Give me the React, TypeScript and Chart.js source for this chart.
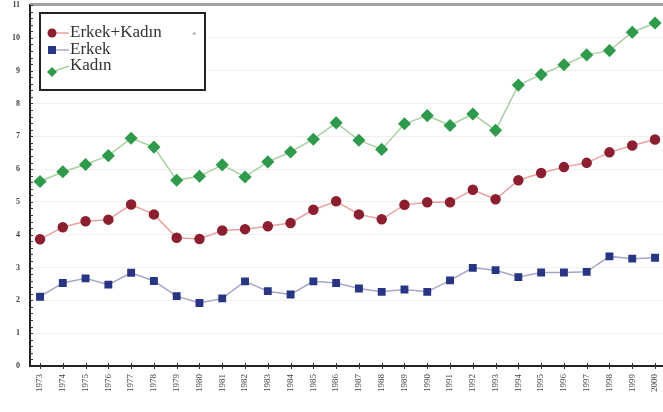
import React, { useEffect, useRef } from "react";
import { Chart, registerables } from "chart.js";

Chart.register(...registerables);

const years = [1973, 1974, 1975, 1976, 1977, 1978, 1979, 1980, 1981, 1982, 1983, 1984, 1985, 1986, 1987, 1988, 1989, 1990, 1991, 1992, 1993, 1994, 1995, 1996, 1997, 1998, 1999, 2000];
const erkekKadin = [3.86, 4.23, 4.41, 4.46, 4.92, 4.62, 3.91, 3.87, 4.13, 4.17, 4.26, 4.36, 4.76, 5.02, 4.62, 4.47, 4.91, 4.99, 4.99, 5.37, 5.08, 5.66, 5.88, 6.06, 6.19, 6.51, 6.72, 6.90];
const erkek = [2.11, 2.53, 2.67, 2.48, 2.84, 2.59, 2.13, 1.92, 2.06, 2.58, 2.28, 2.18, 2.58, 2.53, 2.36, 2.26, 2.33, 2.26, 2.61, 2.99, 2.92, 2.71, 2.85, 2.85, 2.87, 3.34, 3.27, 3.30];
const kadin = [5.62, 5.92, 6.14, 6.41, 6.94, 6.67, 5.66, 5.78, 6.13, 5.76, 6.22, 6.52, 6.91, 7.41, 6.88, 6.60, 7.38, 7.63, 7.33, 7.68, 7.18, 8.56, 8.88, 9.18, 9.48, 9.61, 10.17, 10.45];
const seriesLabels = ["Erkek+Kadın", "Erkek", "Kadın"];
const yTicks = [0, 1, 2, 3, 4, 5, 6, 7, 8, 9, 10, 11];

const SERIF = "'Liberation Serif', 'DejaVu Serif', serif";

const legendBoxPlugin = {
  id: "legendBox",
  afterDraw(chart: any) {
    const ctx = chart.ctx;
    ctx.save();
    // legend frame
    ctx.fillStyle = "#ffffff";
    ctx.fillRect(40, 13, 165, 77);
    ctx.strokeStyle = "#222222";
    ctx.lineWidth = 2;
    ctx.strokeRect(40, 13, 165, 77);
    const rows = [
      { y: 33, ty: 33 },
      { y: 50, ty: 50 },
      { y: 72, ty: 66 },
    ];
    chart.data.datasets.forEach((ds: any, i: number) => {
      const r = rows[i];
      const mx = 52;
      ctx.strokeStyle = ds.borderColor;
      ctx.lineWidth = 1.5;
      ctx.beginPath();
      ctx.moveTo(mx, r.y);
      ctx.lineTo(69, r.ty);
      ctx.stroke();
      ctx.fillStyle = ds.pointBackgroundColor;
      ctx.beginPath();
      if (ds.pointStyle === "rect") {
        ctx.rect(mx - 4, r.y - 4, 8, 8);
      } else if (ds.pointStyle === "rectRot") {
        ctx.moveTo(mx, r.y - 5);
        ctx.lineTo(mx + 5, r.y);
        ctx.lineTo(mx, r.y + 5);
        ctx.lineTo(mx - 5, r.y);
        ctx.closePath();
      } else {
        ctx.arc(mx, r.y, 4.5, 0, Math.PI * 2);
      }
      ctx.fill();
      ctx.fillStyle = "#333333";
      ctx.font = "17px " + SERIF;
      ctx.textBaseline = "middle";
      ctx.textAlign = "left";
      ctx.fillText(ds.label, 70, r.ty);
    });
    ctx.fillStyle = "#999999";
    ctx.font = "9px " + SERIF;
    ctx.fillText("*", 192, 36);
    // top frame line
    ctx.fillStyle = "#a0a0a0";
    ctx.fillRect(chart.chartArea.left, chart.chartArea.top - 2, chart.width - chart.chartArea.left, 3);
    // y minor ticks
    const ys = chart.scales.y;
    ctx.strokeStyle = "#333333";
    ctx.lineWidth = 1;
    for (let v = 0; v <= 11.001; v += 0.2) {
      const py = Math.round(ys.getPixelForValue(v)) + 0.5;
      ctx.beginPath();
      ctx.moveTo(chart.chartArea.left, py);
      ctx.lineTo(chart.chartArea.left + 3, py);
      ctx.stroke();
    }
    // x tick marks crossing axis
    const xs = chart.scales.x;
    const by = chart.chartArea.bottom;
    years.forEach((yr) => {
      const px = Math.round(xs.getPixelForValue(yr)) + 0.5;
      ctx.beginPath();
      ctx.moveTo(px, by - 3);
      ctx.lineTo(px, by + 3);
      ctx.stroke();
    });
    ctx.restore();
  },
};

export default function App() {
  const ref = useRef<HTMLCanvasElement>(null);
  useEffect(() => {
    document.body.style.margin = "0";
    const mk = (arr: number[]) => years.map((x, i) => ({ x, y: arr[i] }));
    const chart = new Chart(ref.current as HTMLCanvasElement, {
      type: "line",
      data: {
        datasets: [
          {
            label: seriesLabels[0],
            data: mk(erkekKadin),
            borderColor: "#eca0a0",
            borderWidth: 1.5,
            pointBackgroundColor: "#8c1f2f",
            pointBorderColor: "#8c1f2f",
            pointStyle: "circle",
            pointRadius: 4.5,
            tension: 0,
            clip: false,
          },
          {
            label: seriesLabels[1],
            data: mk(erkek),
            borderColor: "#a4a8c8",
            borderWidth: 1.5,
            pointBackgroundColor: "#283584",
            pointBorderColor: "#283584",
            pointStyle: "rect",
            pointRadius: 4.5,
            tension: 0,
            clip: false,
          },
          {
            label: seriesLabels[2],
            data: mk(kadin),
            borderColor: "#a8d0a0",
            borderWidth: 1.5,
            pointBackgroundColor: "#2f9a4c",
            pointBorderColor: "#2f9a4c",
            pointStyle: "rectRot",
            pointRadius: 5.5,
            tension: 0,
            clip: false,
          },
        ],
      },
      options: {
        animation: false,
        responsive: false,
        layout: { autoPadding: false, padding: { top: 5, right: 0, left: 0, bottom: 0 } },
        plugins: { legend: { display: false }, tooltip: { enabled: false } },
        scales: {
          x: {
            type: "linear",
            min: 1972.56,
            max: 2000.35,
            afterBuildTicks: (scale: any) => {
              scale.ticks = years.map((v) => ({ value: v }));
            },
            afterFit: (scale: any) => {
              scale.height = 46;
              scale.paddingLeft = 0;
              scale.paddingRight = 0;
            },
            grid: { display: false, drawTicks: false },
            border: { display: true, color: "#222222", width: 2 },
            ticks: {
              minRotation: 90,
              maxRotation: 90,
              autoSkip: false,
              padding: 8,
              color: "#444444",
              font: { family: SERIF, size: 9 },
              callback: (v: any) => String(v),
            },
          },
          y: {
            min: 0,
            max: 11,
            afterBuildTicks: (scale: any) => {
              scale.ticks = yTicks.map((v) => ({ value: v }));
            },
            afterFit: (scale: any) => {
              scale.width = 30;
              scale.paddingTop = 0;
              scale.paddingBottom = 0;
            },
            grid: { color: "#f0f0f0", drawTicks: false },
            border: { display: true, color: "#222222", width: 2 },
            ticks: {
              padding: 10,
              color: "#444444",
              font: { family: SERIF, size: 8, weight: "bold" },
            },
          },
        },
      },
      plugins: [legendBoxPlugin],
    } as any);
    return () => chart.destroy();
  }, []);
  return <canvas ref={ref} width={663} height={412} style={{ display: "block" }} />;
}
